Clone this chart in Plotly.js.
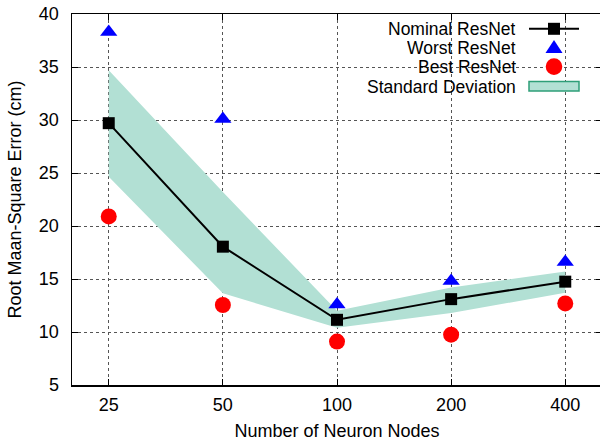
<!DOCTYPE html>
<html>
<head>
<meta charset="utf-8">
<script src="https://cdn.plot.ly/plotly-3.0.1.min.js"></script>
<style>html,body{margin:0;padding:0;overflow:hidden;background:#fff;}#chart{width:602px;height:445px;}</style>
</head>
<body>
<div id="chart"></div>
<script>
// Data
const neuronNodes = [25, 50, 100, 200, 400];
const tickLabels = ["25", "50", "100", "200", "400"];
const nominalResNet = [29.7, 18.05, 11.15, 13.1, 14.75];
const worstResNet = [38.3, 30.1, 12.6, 14.8, 16.6];
const bestResNet = [20.9, 12.55, 9.1, 9.75, 12.7];
const stdUpper = [34.7, 23.2, 12.0, 14.2, 15.7];
const stdLower = [24.65, 13.65, 10.4, 11.8, 13.7];
const legendNames = ["Nominal ResNet", "Worst ResNet", "Best ResNet", "Standard Deviation"];

const FONT = "Liberation Sans, Arial, sans-serif";
const bandColor = "#b2e0d4";

const traces = [
  {x: neuronNodes, y: stdUpper, type: "scatter", mode: "lines", line: {width: 0, color: bandColor}, hoverinfo: "skip", showlegend: false},
  {x: neuronNodes, y: stdLower, type: "scatter", mode: "lines", line: {width: 0, color: bandColor}, fill: "tonexty", fillcolor: bandColor, name: legendNames[3], showlegend: false},
  {x: neuronNodes, y: nominalResNet, type: "scatter", mode: "lines+markers", line: {color: "#000", width: 2}, marker: {symbol: "square", size: 12, color: "#000"}, name: legendNames[0], showlegend: false},
  {x: neuronNodes, y: worstResNet, type: "scatter", mode: "markers", marker: {symbol: "triangle-up", size: 15, color: "#0000ff"}, name: legendNames[1], showlegend: false},
  {x: neuronNodes, y: bestResNet, type: "scatter", mode: "markers", marker: {symbol: "circle", size: 16, color: "#ff0000"}, name: legendNames[2], showlegend: false}
];

// plot area in pixels: x 72..602, y 14..385
const L = 72, R = 602, T = 14, B = 385;
const px = v => (v - L) / (R - L);
const py = v => (B - v) / (B - T);
const rowsY = [28.8, 47.6, 66.6, 86.6];
const textRight = 517, symX = 554, symX0 = 529, symX1 = 579;

const annotations = legendNames.map((t, i) => ({
  text: t, xref: "paper", yref: "paper", x: px(textRight), y: py(rowsY[i]),
  xanchor: "right", yanchor: "middle", showarrow: false, height: 18, borderpad: 0,
  font: {family: FONT, size: 17.5, color: "#000"}
}));

const shapes = [
  {type: "line", xref: "paper", yref: "paper", x0: px(symX0), x1: px(symX1), y0: py(rowsY[0]), y1: py(rowsY[0]), line: {color: "#000", width: 2}},
  {type: "rect", xref: "paper", yref: "paper", xsizemode: "pixel", ysizemode: "pixel", xanchor: px(symX), yanchor: py(rowsY[0]), x0: -6, x1: 6, y0: -6, y1: 6, fillcolor: "#000", line: {width: 0}},
  {type: "path", xref: "paper", yref: "paper", xsizemode: "pixel", ysizemode: "pixel", xanchor: px(symX), yanchor: py(rowsY[1]), path: "M -8.5,-5.5 L 8.5,-5.5 L 0,7.5 Z", fillcolor: "#0000ff", line: {width: 0}},
  {type: "circle", xref: "paper", yref: "paper", xsizemode: "pixel", ysizemode: "pixel", xanchor: px(symX), yanchor: py(rowsY[2]), x0: -8.3, x1: 8.3, y0: -8.3, y1: 8.3, fillcolor: "#ff0000", line: {width: 0}},
  {type: "rect", xref: "paper", yref: "paper", x0: px(symX0), x1: px(symX1), y0: py(91), y1: py(81.5), fillcolor: bandColor, line: {color: "#2e9e78", width: 1.5}}
];

const layout = {
  width: 602, height: 445,
  margin: {l: L, r: 602 - R, t: T, b: 445 - B, pad: 0},
  paper_bgcolor: "#fff", plot_bgcolor: "#fff",
  font: {family: FONT, size: 18, color: "#000"},
  showlegend: false,
  xaxis: {
    type: "log", range: [Math.log10(20), Math.log10(500)],
    tickvals: neuronNodes, ticktext: tickLabels,
    ticks: "inside", ticklen: 6, tickwidth: 1, tickcolor: "#000",
    showline: true, linecolor: "#000", linewidth: 1.5, mirror: "allticks",
    showgrid: true, gridcolor: "#555", griddash: "dot", gridwidth: 1,
    zeroline: false, ticklabelstandoff: 3,
    tickfont: {family: FONT, size: 18},
    title: {text: "Number of Neuron Nodes", font: {family: FONT, size: 18}, standoff: 10}
  },
  yaxis: {
    range: [5, 40], dtick: 5, tick0: 5,
    ticks: "inside", ticklen: 6, tickwidth: 1, tickcolor: "#000",
    showline: true, linecolor: "#000", linewidth: 1.5, mirror: "allticks",
    showgrid: true, gridcolor: "#555", griddash: "dot", gridwidth: 1,
    zeroline: false, ticklabelstandoff: 8,
    tickfont: {family: FONT, size: 18},
    title: {text: "Root Maan-Square Error (cm)", font: {family: FONT, size: 18}, standoff: 12}
  },
  annotations: annotations,
  shapes: shapes
};

Plotly.newPlot("chart", traces, layout, {displayModeBar: false, staticPlot: true});
</script>
</body>
</html>
